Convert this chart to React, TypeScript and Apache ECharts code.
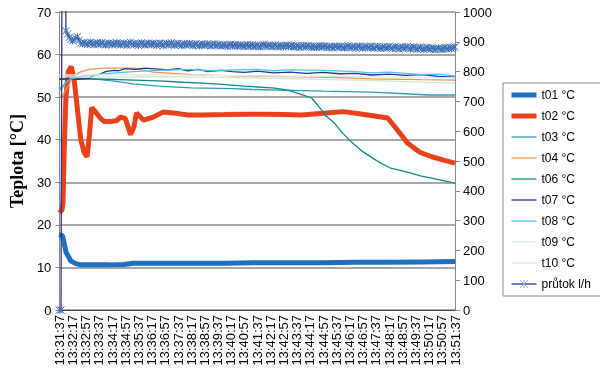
import React, { useEffect, useRef } from "react";
import * as echarts from "echarts";

const timeLabels = [
  "13:31:37", "13:32:17", "13:32:57", "13:33:37", "13:34:17", "13:34:57", "13:35:37", "13:36:17",
  "13:36:57", "13:37:37", "13:38:17", "13:38:57", "13:39:37", "13:40:17", "13:40:57", "13:41:37",
  "13:42:17", "13:42:57", "13:43:37", "13:44:17", "13:44:57", "13:45:37", "13:46:17", "13:46:57",
  "13:47:37", "13:48:17", "13:48:57", "13:49:37", "13:50:17", "13:50:57", "13:51:37",
];
const labelStepSec = 40;
const flowStepSec = 5;

// [seconds since 13:31:37, °C]
const t01 = [[0, 17.8], [10, 17.4], [20, 13.6], [35, 11.5], [50, 10.9], [65, 10.6], [100, 10.6], [150, 10.6], [195, 10.7], [225, 11.0], [300, 11.0], [400, 11.0], [500, 11.0], [600, 11.1], [700, 11.1], [800, 11.1], [900, 11.2], [1000, 11.2], [1100, 11.3], [1200, 11.4]];
const t02 = [[0, 22.8], [8, 23.5], [11, 25], [15, 38], [20, 50], [27, 56], [36, 57.2], [45, 54], [55, 47], [65, 40], [75, 37], [84, 36], [91, 41], [98, 47.5], [110, 46.5], [125, 45], [135, 44.3], [160, 44.3], [174, 44.5], [185, 45.3], [200, 45], [216, 41.2], [226, 43], [234, 46.3], [255, 44.6], [285, 45.3], [315, 46.5], [345, 46.3], [390, 45.8], [435, 45.8], [500, 45.9], [560, 46], [620, 46], [680, 45.9], [735, 45.8], [800, 46.2], [861, 46.6], [920, 46], [996, 45.1], [1020, 42.8], [1056, 39.2], [1080, 37.8], [1095, 37], [1130, 36], [1165, 35.2], [1200, 34.5]];
const t03 = [[0, 51.8], [10, 52.6], [20, 53.6], [30, 54.2], [45, 54.5], [100, 54.3], [160, 53.8], [225, 53.1], [300, 52.6], [400, 52.2], [525, 52.0], [585, 51.8], [700, 51.6], [800, 51.4], [945, 51.2], [1050, 50.8], [1120, 50.5], [1200, 50.5]];
const t04 = [[0, 50.3], [8, 50], [15, 51], [25, 52.5], [40, 54.5], [60, 55.8], [90, 56.5], [135, 56.8], [225, 56.8], [285, 55.9], [405, 55.3], [525, 55.0], [700, 54.8], [850, 54.6], [945, 54.3], [1100, 54.1], [1200, 54.0]];
const t06 = [[0, 54.3], [60, 54.3], [150, 54.2], [225, 54.0], [300, 53.8], [375, 53.5], [435, 53.3], [495, 53.0], [560, 52.6], [654, 52.1], [700, 51.5], [740, 50.5], [765, 49.8], [790, 47.5], [810, 45.5], [834, 43.9], [860, 41.5], [885, 39.5], [920, 37.2], [960, 35.2], [975, 34.5], [1005, 33.3], [1050, 32.5], [1095, 31.5], [1150, 30.6], [1200, 29.8]];
const t07 = [[0, 54.2], [30, 54.3], [60, 54.2], [90, 54.4], [105, 55.2], [120, 55.3], [140, 56], [165, 56.3], [180, 56.2], [200, 56.7], [230, 56.5], [260, 56.8], [300, 56.6], [330, 56.4], [360, 56.7], [390, 56.2], [420, 56.5], [450, 56.0], [490, 56.3], [525, 56.0], [560, 55.8], [600, 56.1], [650, 55.7], [700, 55.9], [750, 55.6], [800, 55.8], [850, 55.5], [900, 55.6], [945, 55.2], [1000, 55.4], [1050, 55.1], [1100, 55.3], [1150, 54.9], [1200, 54.7]];
const t08 = [[0, 51.5], [10, 52.3], [20, 53.5], [35, 54.3], [60, 54.8], [100, 55.2], [150, 55.6], [225, 56.0], [300, 56.3], [400, 56.5], [460, 56.2], [525, 56.4], [600, 56.5], [650, 56.2], [700, 56.4], [800, 56.3], [900, 56.0], [945, 55.7], [1000, 55.9], [1050, 55.6], [1100, 55.3], [1150, 55.4], [1200, 55.0]];
const t09 = [[0, 55.2], [300, 55.3], [600, 55.0], [900, 54.8], [1200, 54.5]];
const t10 = [[0, 54.8], [100, 54.7], [300, 54.8], [600, 54.5], [900, 54.0], [1200, 53.3]];

// průtok l/h every 5 s
const flow = [
  0, 0, 2000, 1500, 937, 926, 915, 908, 903, 907,
  912, 917, 905, 896, 893, 898, 894, 891, 896, 899,
  893, 890, 895, 897, 892, 894, 898, 891, 889, 894,
  896, 893, 890, 895, 892, 897, 894, 889, 893, 896,
  892, 888, 894, 899, 893, 890, 895, 892, 888, 894,
  897, 891, 889, 894, 896, 892, 890, 895, 893, 888,
  892, 896, 891, 887, 893, 895, 890, 892, 897, 891,
  888, 893, 895, 890, 887, 892, 894, 889, 891, 895,
  890, 887, 892, 894, 889, 886, 891, 893, 888, 890,
  894, 889, 886, 891, 893, 887, 889, 892, 886, 888,
  891, 887, 885, 890, 892, 886, 888, 891, 885, 887,
  890, 886, 884, 889, 891, 885, 887, 890, 884, 886,
  889, 885, 883, 888, 892, 886, 884, 889, 887, 883,
  886, 890, 885, 883, 888, 886, 882, 887, 889, 884,
  886, 889, 884, 882, 887, 885, 881, 886, 888, 883,
  885, 888, 883, 881, 886, 884, 880, 885, 887, 882,
  884, 887, 882, 880, 885, 883, 879, 884, 886, 881,
  883, 886, 881, 879, 884, 887, 882, 880, 885, 883,
  879, 884, 886, 881, 878, 883, 885, 880, 882, 886,
  881, 878, 883, 885, 880, 877, 882, 884, 879, 881,
  885, 880, 877, 882, 884, 879, 876, 881, 883, 878,
  880, 884, 879, 876, 881, 883, 878, 875, 880, 882,
  877, 874, 879, 882, 877, 875, 880, 878, 873, 877,
  880, 876, 874, 879, 881, 876, 878, 882, 877, 880,
  883,
];

const FONT = "'Liberation Sans', Arial, sans-serif";
const ASTERISK = "path://M0 0L10 10M10 0L0 10M5 0L5 10";

export default function App() {
  const ref = useRef<HTMLDivElement>(null);
  useEffect(() => {
    if (!ref.current) return;
    const chart = echarts.init(ref.current, null, { renderer: "svg" });
    const tempSeries = (name: string, data: number[][], color: string, width: number) => ({
      name,
      type: "line",
      data,
      yAxisIndex: 0,
      symbol: "none",
      lineStyle: { color, width },
      itemStyle: { color },
      clip: true,
    });
    const option = {
      animation: false,
      grid: { left: 55, right: 145, top: 12, bottom: 68 },
      legend: {
        orient: "vertical",
        left: 503,
        top: 83,
        padding: [6, 10, 6, 6],
        itemWidth: 25,
        itemHeight: 10,
        itemGap: 9,
        borderColor: "#888",
        borderWidth: 1,
        textStyle: { fontFamily: FONT, fontSize: 12, color: "#000" },
        lineStyle: { width: "inherit" },
        itemStyle: { opacity: 0 },
        data: [
          "t01 °C", "t02 °C", "t03 °C", "t04 °C", "t06 °C", "t07 °C", "t08 °C", "t09 °C", "t10 °C",
          { name: "průtok l/h", itemStyle: { opacity: 1, borderWidth: 1, borderColor: "#8fb0dc" } },
        ],
      },
      xAxis: {
        type: "value",
        min: 0,
        max: 1200,
        interval: labelStepSec,
        axisLine: { show: true, lineStyle: { color: "#444", width: 1 } },
        axisTick: { show: false },
        splitLine: { show: false },
        axisLabel: {
          rotate: 90,
          fontFamily: FONT,
          fontSize: 13,
          color: "#000",
          margin: 5,
          formatter: (v: number) => timeLabels[Math.round(v / labelStepSec)] ?? "",
        },
      },
      yAxis: [
        {
          type: "value",
          min: 0,
          max: 70,
          interval: 10,
          name: "Teplota [°C]",
          nameLocation: "middle",
          nameRotate: 90,
          nameGap: 33,
          nameTextStyle: { fontFamily: "'Liberation Serif', 'Times New Roman', serif", fontWeight: "bold", fontSize: 18, color: "#000" },
          axisLine: { show: true, lineStyle: { color: "#888", width: 1 } },
          axisTick: { show: true, length: 4, lineStyle: { color: "#888" } },
          splitLine: { show: true, lineStyle: { color: "#8a8a8a", width: 1.5 } },
          axisLabel: { fontFamily: FONT, fontSize: 13, color: "#000", margin: 8 },
        },
        {
          type: "value",
          min: 0,
          max: 1000,
          interval: 100,
          position: "right",
          axisLine: { show: true, lineStyle: { color: "#888", width: 1 } },
          axisTick: { show: true, length: 5, lineStyle: { color: "#888" } },
          splitLine: { show: false },
          axisLabel: { fontFamily: FONT, fontSize: 13, color: "#000", margin: 8, formatter: (v: number) => String(v) },
        },
      ],
      series: [
        tempSeries("t01 °C", t01, "#1f6fc0", 5),
        tempSeries("t02 °C", t02, "#e8411c", 5),
        tempSeries("t03 °C", t03, "#3399bb", 1.3),
        tempSeries("t04 °C", t04, "#e8954a", 1.3),
        tempSeries("t06 °C", t06, "#0e8a86", 1.3),
        tempSeries("t07 °C", t07, "#2e3192", 1.3),
        tempSeries("t08 °C", t08, "#4ec3ee", 1.3),
        tempSeries("t09 °C", t09, "#dcecf4", 1.3),
        tempSeries("t10 °C", t10, "#d3e8cc", 1.3),
        {
          name: "průtok l/h",
          type: "line",
          yAxisIndex: 1,
          data: flow.map((v, i) => [i * flowStepSec, v]),
          symbol: ASTERISK,
          symbolSize: 7,
          showSymbol: true,
          lineStyle: { color: "#2e3192", width: 1.3 },
          itemStyle: { color: "#3f70b5", borderColor: "#3f70b5", borderWidth: 1 },
          clip: true,
        },
      ],
    };
    chart.setOption(option as any);
    return () => chart.dispose();
  }, []);
  return <div ref={ref} style={{ position: "fixed", left: 0, top: 0, width: 600, height: 378 }} />;
}
